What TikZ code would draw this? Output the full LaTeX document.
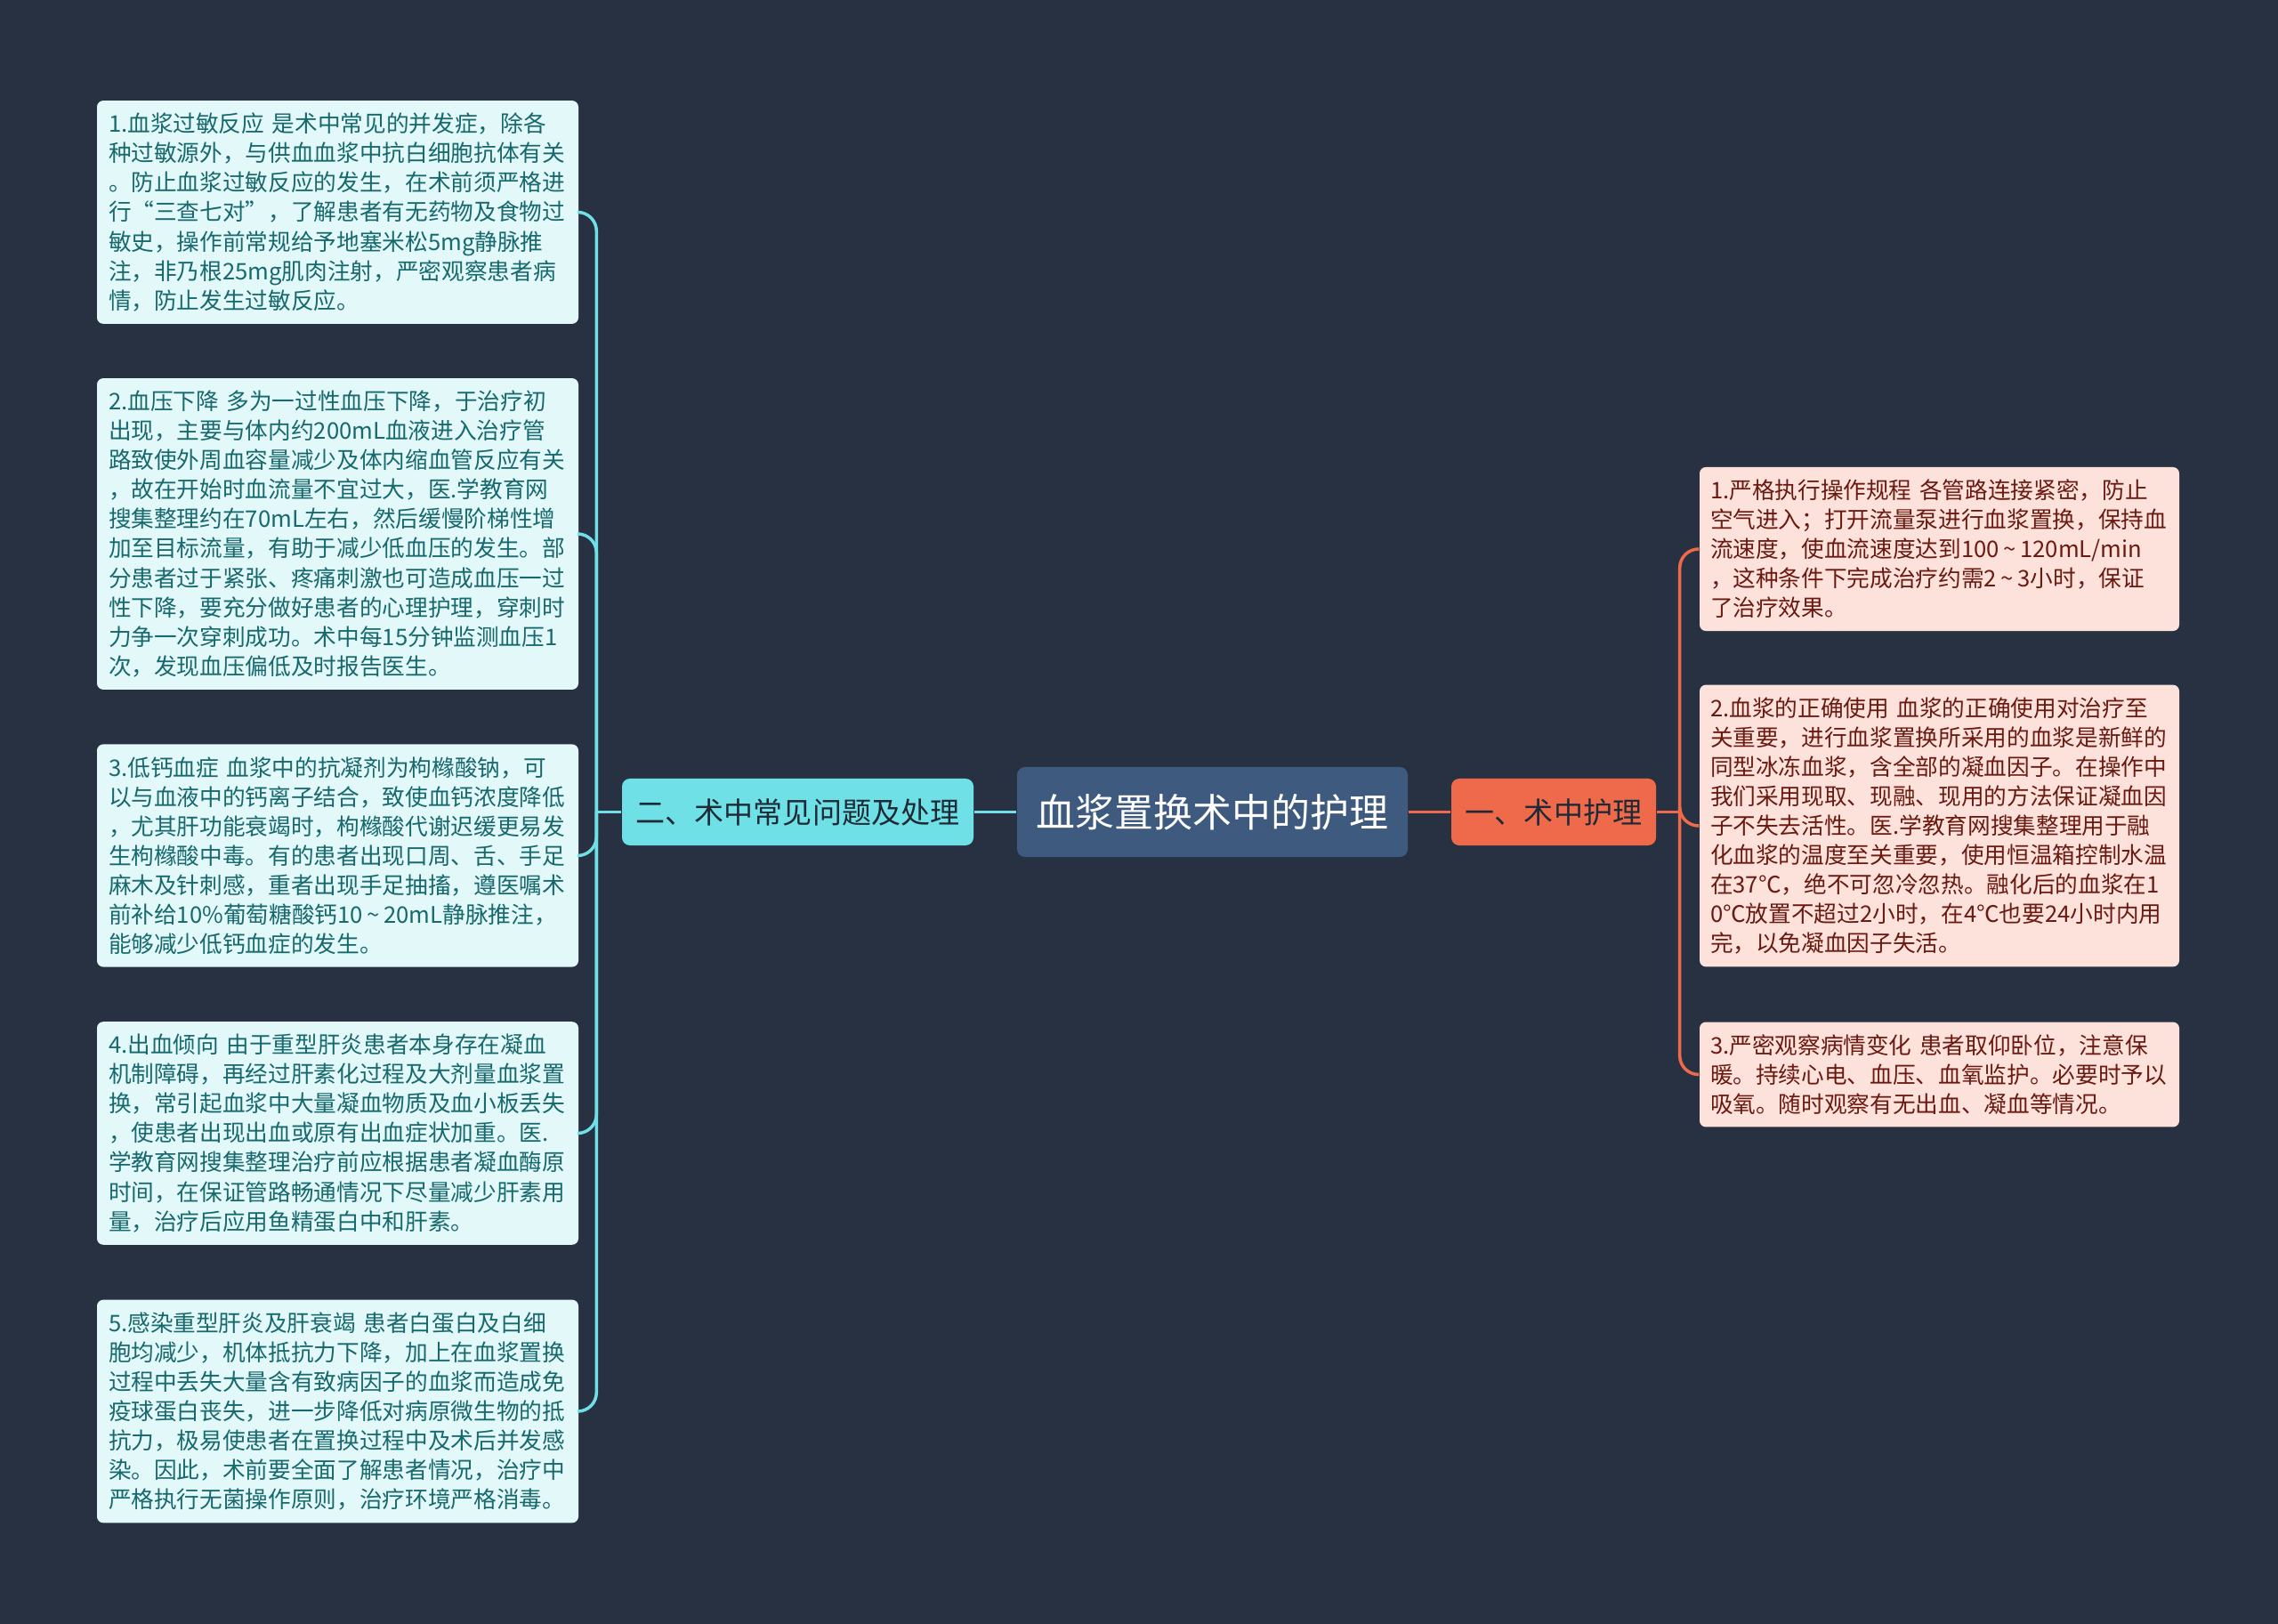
\documentclass[tikz,border=0pt]{standalone}
\usepackage{fontspec}
\setmainfont{Noto Sans CJK SC}
\usetikzlibrary{positioning}
\definecolor{bgDark}{HTML}{283142}
\definecolor{hubFill}{HTML}{3E5A7F}
\definecolor{qaFill}{HTML}{6EE0E6}
\definecolor{qaLeaf}{HTML}{E2F8F9}
\definecolor{qaText}{HTML}{17696E}
\definecolor{careFill}{HTML}{EE6A4B}
\definecolor{careLeaf}{HTML}{FDE2DC}
\definecolor{careText}{HTML}{6A1A10}
\definecolor{branchText}{HTML}{1F2A36}
\newcommand{\FigHub}{\fontsize{12.5}{15}\selectfont}
\newcommand{\FigBranch}{\fontsize{9.4}{11}\selectfont}
\newcommand{\FigLeaf}{\fontsize{7.3}{9.4}\selectfont}
\newcommand{\tld}{\kern0.18em\char"007E\kern0.18em}

\begin{document}
\begin{tikzpicture}[
  x=1cm, y=-1cm,
  hub/.style    = {fill=hubFill, text=white, rounded corners=2.5pt, minimum width=4.39cm,
                   minimum height=1.01cm, inner sep=0pt, font=\FigHub},
  branch/.style = {rounded corners=2.5pt, minimum height=0.75cm, inner sep=0pt,
                   text=branchText, font=\FigBranch},
  leafL/.style  = {fill=qaLeaf, text=qaText, rounded corners=2pt, text width=5.15cm,
                   align=left, inner xsep=0.13cm, inner ysep=0.14cm, font=\FigLeaf},
  leafR/.style  = {fill=careLeaf, text=careText, rounded corners=2pt, text width=5.15cm,
                   align=left, inner xsep=0.12cm, inner ysep=0.14cm, font=\FigLeaf},
  linkL/.style  = {draw=qaFill, line width=1pt, rounded corners=6pt},
  linkR/.style  = {draw=careFill, line width=1pt, rounded corners=6pt},
]

\fill[bgDark] (0,0) rectangle (25.6,18.25);

% ---------------------------------------------------------------- centre
\node[hub] (root) at (13.625,9.125) {血浆置换术中的护理};
\node[branch, fill=qaFill, minimum width=3.95cm] (qa) at (8.965,9.125) {二、术中常见问题及处理};
\node[branch, fill=careFill, minimum width=2.30cm] (care) at (17.46,9.125) {一、术中护理};

\draw[linkL] (root.west) -- (qa.east);
\draw[linkR] (root.east) -- (care.west);

% ---------------------------------------------------------------- (二) common problems
\node[leafL] (q1) at (3.795,2.385) {1.血浆过敏反应 是术中常见的并发症，除各\\
  种过敏源外，与供血血浆中抗白细胞抗体有关\\
  。防止血浆过敏反应的发生，在术前须严格进\\
  行“三查七对”，了解患者有无药物及食物过\\
  敏史，操作前常规给予地塞米松5mg静脉推\\
  注，非乃根25mg肌肉注射，严密观察患者病\\
  情，防止发生过敏反应。};
\node[leafL] (q2) at (3.795,6.00) {2.血压下降 多为一过性血压下降，于治疗初\\
  出现，主要与体内约200mL血液进入治疗管\\
  路致使外周血容量减少及体内缩血管反应有关\\
  ，故在开始时血流量不宜过大，医.学教育网\\
  搜集整理约在70mL左右，然后缓慢阶梯性增\\
  加至目标流量，有助于减少低血压的发生。部\\
  分患者过于紧张、疼痛刺激也可造成血压一过\\
  性下降，要充分做好患者的心理护理，穿刺时\\
  力争一次穿刺成功。术中每15分钟监测血压1\\
  次，发现血压偏低及时报告医生。};
\node[leafL] (q3) at (3.795,9.615) {3.低钙血症 血浆中的抗凝剂为枸橼酸钠，可\\
  以与血液中的钙离子结合，致使血钙浓度降低\\
  ，尤其肝功能衰竭时，枸橼酸代谢迟缓更易发\\
  生枸橼酸中毒。有的患者出现口周、舌、手足\\
  麻木及针刺感，重者出现手足抽搐，遵医嘱术\\
  前补给10\%葡萄糖酸钙10\tld20mL静脉推注，\\
  能够减少低钙血症的发生。};
\node[leafL] (q4) at (3.795,12.735) {4.出血倾向 由于重型肝炎患者本身存在凝血\\
  机制障碍，再经过肝素化过程及大剂量血浆置\\
  换，常引起血浆中大量凝血物质及血小板丢失\\
  ，使患者出现出血或原有出血症状加重。医.\\
  学教育网搜集整理治疗前应根据患者凝血酶原\\
  时间，在保证管路畅通情况下尽量减少肝素用\\
  量，治疗后应用鱼精蛋白中和肝素。};
\node[leafL] (q5) at (3.795,15.86) {5.感染重型肝炎及肝衰竭 患者白蛋白及白细\\
  胞均减少，机体抵抗力下降，加上在血浆置换\\
  过程中丢失大量含有致病因子的血浆而造成免\\
  疫球蛋白丧失，进一步降低对病原微生物的抵\\
  抗力，极易使患者在置换过程中及术后并发感\\
  染。因此，术前要全面了解患者情况，治疗中\\
  严格执行无菌操作原则，治疗环境严格消毒。};

\coordinate (qaFork) at ([xshift=-0.28cm]qa.west);
\draw[linkL] (qa.west) -- (qaFork);
\foreach \n in {q1,q2,q3,q4,q5}
  \draw[linkL] (qaFork) |- (\n.east);

% ---------------------------------------------------------------- (一) nursing
\node[leafR] (c1) at (21.795,6.17) {1.严格执行操作规程 各管路连接紧密，防止\\
  空气进入；打开流量泵进行血浆置换，保持血\\
  流速度，使血流速度达到100\tld120mL/min\\
  ，这种条件下完成治疗约需2\tld3小时，保证\\
  了治疗效果。};
\node[leafR] (c2) at (21.795,9.28) {2.血浆的正确使用 血浆的正确使用对治疗至\\
  关重要，进行血浆置换所采用的血浆是新鲜的\\
  同型冰冻血浆，含全部的凝血因子。在操作中\\
  我们采用现取、现融、现用的方法保证凝血因\\
  子不失去活性。医.学教育网搜集整理用于融\\
  化血浆的温度至关重要，使用恒温箱控制水温\\
  在37℃，绝不可忽冷忽热。融化后的血浆在1\\
  0℃放置不超过2小时，在4℃也要24小时内用\\
  完，以免凝血因子失活。};
\node[leafR] (c3) at (21.795,12.075) {3.严密观察病情变化 患者取仰卧位，注意保\\
  暖。持续心电、血压、血氧监护。必要时予以\\
  吸氧。随时观察有无出血、凝血等情况。};

\coordinate (careFork) at ([xshift=0.26cm]care.east);
\draw[linkR] (care.east) -- (careFork);
\foreach \n in {c1,c2,c3}
  \draw[linkR] (careFork) |- (\n.west);

\end{tikzpicture}
\end{document}
